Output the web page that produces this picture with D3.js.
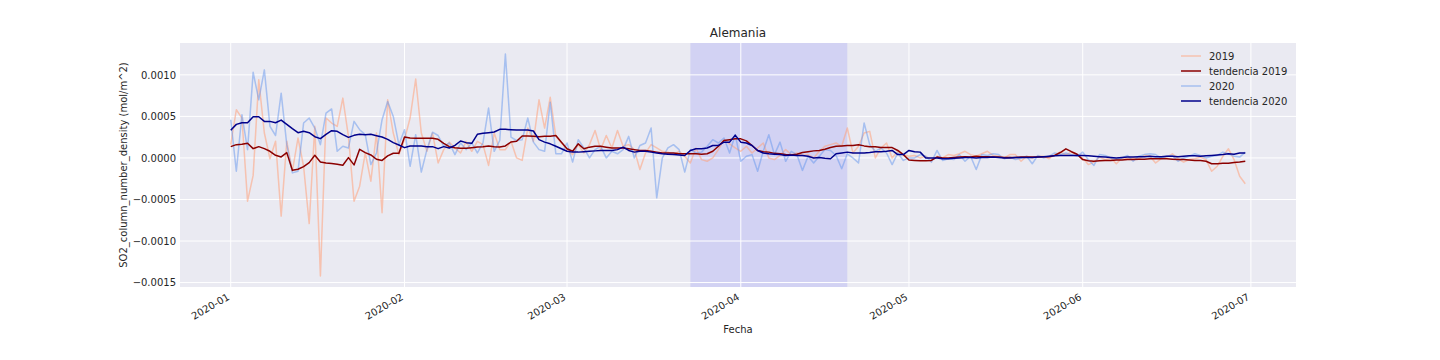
<!DOCTYPE html>
<html><head><meta charset="utf-8">
<script src="https://cdn.jsdelivr.net/npm/d3@7"></script>
<style>
html,body{margin:0;padding:0;background:#ffffff;}
svg{display:block;font-family:"DejaVu Sans",sans-serif;}
</style></head>
<body><svg id="chart" width="1440" height="360"></svg>
<script>
// ---- data (SO2 column density, units of 1e-4 mol/m^2), daily from 2020-01-01 ----
const startDate = "2020-01-01";
const so2_2019 = [1.6,5.8,4.8,-5.2,-2.1,9.4,3.0,-0.1,2.0,-7.0,2.0,-1.6,2.4,-1.0,-7.9,3.8,-14.2,4.8,4.2,3.8,
7.2,2.6,-5.2,-3.4,0.6,-2.8,3.0,-6.6,7.0,3.0,0.4,2.2,4.8,9.5,3.0,0.8,3.0,-0.6,1.0,1.9,
1.2,0.6,2.0,0.8,2.0,1.6,-0.9,3.0,1.0,1.0,2.0,0.0,-0.3,3.6,2.0,7.0,3.6,7.3,2.6,1.8,
1.0,0.4,1.6,0.6,1.6,3.3,1.0,2.7,1.2,3.3,1.4,1.6,1.0,-1.4,0.6,1.6,1.2,0.8,0.7,0.4,
0.8,0.2,-0.6,1.2,-0.2,-0.4,0.0,1.0,2.2,1.7,1.2,0.8,1.4,0.6,1.2,1.8,0.0,-0.2,0.3,1.0,
0.4,0.6,0.3,0.4,0.0,0.8,1.4,1.6,1.8,1.4,3.6,0.6,1.4,3.0,3.2,0.0,1.2,1.8,0.0,0.8,
0.4,0.2,0.3,0.0,0.2,-0.2,0.2,0.0,0.4,0.3,0.5,0.8,0.4,0.2,0.5,0.8,0.3,0.2,0.0,0.4,
0.4,-0.4,0.2,0.0,0.2,0.2,-0.1,0.4,0.7,0.4,0.7,0.3,0.0,-0.8,-0.5,0.1,-0.2,0.0,-0.7,0.0,
-0.1,0.0,-0.1,0.3,0.2,-0.6,-0.1,0.1,0.5,-0.1,-0.5,-0.2,-0.1,0.1,-0.2,-1.6,-1.0,0.2,1.1,-0.2,
-2.2,-3.1];
const trend_2019 = [1.36,1.6,1.64,1.76,1.12,1.36,1.12,0.8,0.32,0.12,0.64,-1.48,-1.36,-1.04,-0.56,0.32,-0.48,-0.6,-0.68,-0.76,
-0.88,0.04,-0.84,1.04,0.64,0.36,-0.16,-0.3,0.24,0.56,0.56,2.52,2.4,2.36,2.36,2.36,2.36,2.24,1.76,1.36,
1.24,1.16,1.16,1.24,1.32,1.36,1.44,1.36,1.32,1.44,1.92,2.0,2.64,2.64,2.6,2.56,2.6,2.6,2.7,1.9,
1.1,0.8,1.7,1.1,1.3,1.4,1.4,1.3,1.2,1.2,1.2,1.1,1.0,0.9,0.9,0.8,0.7,0.6,0.6,0.6,
0.5,0.5,0.5,0.5,0.45,0.5,0.8,1.4,2.1,2.2,2.3,2.3,2.05,1.5,0.9,0.75,0.7,0.55,0.5,0.4,
0.35,0.45,0.65,0.75,0.85,0.9,1.05,1.25,1.4,1.45,1.5,1.5,1.6,1.45,1.35,1.35,1.25,1.25,1.25,0.9,
0.4,-0.25,-0.3,-0.35,-0.35,-0.3,0.1,0.0,0.0,0.05,0.1,0.15,0.1,0.2,0.15,0.15,0.1,0.1,0.05,0.05,
0.05,0.1,0.1,0.1,0.1,0.15,0.15,0.3,0.65,1.1,0.75,0.45,-0.2,-0.35,-0.4,-0.35,-0.3,-0.3,-0.25,-0.25,
-0.2,-0.2,-0.15,-0.15,-0.1,-0.1,-0.1,-0.1,-0.15,-0.2,-0.2,-0.25,-0.3,-0.3,-0.4,-0.7,-0.7,-0.65,-0.65,-0.55,
-0.5,-0.4];
const so2_2020 = [4.6,-1.6,5.2,1.0,10.3,7.0,10.6,3.8,2.7,7.8,1.6,-1.8,-1.6,4.2,4.8,3.6,1.6,5.4,5.9,0.8,
1.4,1.2,4.4,3.4,2.8,-0.8,0.6,4.6,6.8,5.0,1.6,3.4,-1.0,2.8,-1.7,1.0,3.1,2.7,1.4,1.8,
0.4,1.8,1.0,1.8,0.6,1.8,6.0,0.8,2.1,12.5,2.5,2.1,2.2,4.8,1.9,1.0,0.8,6.7,0.5,0.5,
1.8,-0.5,2.2,1.2,0.0,1.0,1.4,0.0,0.8,0.5,1.0,2.6,0.0,1.5,1.8,3.6,-4.8,0.0,1.2,1.6,
1.0,-1.7,1.0,0.6,0.7,1.4,2.2,1.8,2.4,0.6,2.8,-0.4,0.2,0.4,-1.6,0.8,2.8,0.4,1.9,-0.4,
0.8,0.4,-1.5,0.2,-0.6,0.2,1.0,0.9,0.3,-1.3,0.5,0.0,-0.6,4.2,1.6,0.8,1.2,0.6,-0.8,0.6,
-0.3,0.0,0.0,0.4,0.2,-0.5,0.9,-0.3,-0.1,-0.2,0.4,-0.4,0.2,-1.4,0.4,0.3,0.5,0.4,-0.1,0.1,
-0.2,0.0,0.2,-0.7,0.3,0.0,0.2,0.6,0.4,0.6,0.4,0.2,0.7,-0.2,-0.9,0.4,0.3,0.0,-0.2,0.0,
0.3,-0.4,0.2,0.4,0.5,0.4,0.0,0.2,0.3,-0.4,0.0,0.2,0.5,0.3,0.0,0.2,0.3,0.7,0.5,0.2,
0.1,0.7];
const trend_2020 = [3.32,4.04,4.24,4.24,4.96,4.96,4.4,4.4,4.24,4.56,4.04,3.52,3.04,3.2,3.04,2.56,2.32,2.84,3.28,3.2,
2.8,2.48,2.72,2.84,2.8,2.84,2.68,2.52,2.24,1.84,1.56,1.24,1.44,1.44,1.44,1.36,1.36,1.12,1.36,1.2,
1.52,2.04,1.84,1.76,2.84,2.96,3.04,3.12,3.44,3.44,3.4,3.36,3.36,3.36,3.24,2.2,1.9,1.7,1.4,1.1,
0.8,0.7,0.7,0.75,0.8,0.85,0.9,0.9,0.9,1.0,1.3,0.9,0.7,0.8,0.8,0.7,0.6,0.5,0.45,0.4,
0.36,0.3,0.9,1.1,1.1,1.2,1.5,1.5,1.9,1.9,2.75,1.9,1.8,1.5,0.9,0.6,0.5,0.45,0.4,0.3,
0.35,0.3,0.3,0.2,0.0,0.05,-0.05,-0.1,0.5,0.6,0.7,0.6,0.6,0.6,0.65,0.75,0.75,0.8,0.9,0.4,
0.4,0.9,0.75,0.7,0.0,0.0,0.0,-0.1,-0.1,-0.05,0.0,0.05,0.05,0.0,0.05,0.05,0.1,0.05,0.0,0.0,
0.05,0.05,0.05,0.05,0.1,0.15,0.2,0.25,0.3,0.3,0.3,0.3,0.3,0.25,0.2,0.15,0.1,0.05,0.0,0.05,
0.1,0.1,0.15,0.15,0.2,0.15,0.15,0.2,0.2,0.15,0.2,0.25,0.25,0.2,0.25,0.3,0.35,0.4,0.5,0.45,
0.6,0.6];
const seriesNames = ["2019","tendencia 2019","2020","tendencia 2020"];
const yTickValues = [-15,-10,-5,0,5,10];
const yTickLabels = ["\u22120.0015","\u22120.0010","\u22120.0005","0.0000","0.0005","0.0010"];
const xTickDates = ["2020-01-01","2020-02-01","2020-03-01","2020-04-01","2020-05-01","2020-06-01","2020-07-01"];
const xTickLabels = ["2020-01","2020-02","2020-03","2020-04","2020-05","2020-06","2020-07"];
const lockdownSpan = ["2020-03-23","2020-04-20"];
const titleText = "Alemania";
const xLabel = "Fecha";
const yLabel = "SO2_column_number_density (mol/m^2)";

// ---- layout ----
const svg = d3.select("#chart");
const L = 180, R = 1296, T = 43, B = 287;
const parse = d3.utcParse("%Y-%m-%d");
const t0 = parse(startDate);
const dates = so2_2019.map((_, i) => d3.utcDay.offset(t0, i));
const xMin = dates[0], xMax = dates[dates.length - 1];
const span = xMax - xMin;
const x = d3.scaleUtc().domain([new Date(+xMin - 0.05 * span), new Date(+xMax + 0.05 * span)]).range([L, R]);
const all = so2_2019.concat(so2_2020, trend_2019, trend_2020);
const yLo = d3.min(all), yHi = d3.max(all), yr = yHi - yLo;
const y = d3.scaleLinear().domain([yLo - 0.05 * yr, yHi + 0.05 * yr]).range([B, T]);

const textColor = "#262626";

// background
svg.append("rect").attr("x", L).attr("y", T).attr("width", R - L).attr("height", B - T).attr("fill", "#eaeaf2");

// shaded span
svg.append("rect")
  .attr("x", x(parse(lockdownSpan[0]))).attr("y", T)
  .attr("width", x(parse(lockdownSpan[1])) - x(parse(lockdownSpan[0])))
  .attr("height", B - T).attr("fill", "blue").attr("fill-opacity", 0.1);

// grid
const xt = xTickDates.map(parse);
svg.append("g").selectAll("line").data(xt).join("line")
  .attr("x1", d => x(d)).attr("x2", d => x(d)).attr("y1", T).attr("y2", B)
  .attr("stroke", "#fff").attr("stroke-width", 1);
svg.append("g").selectAll("line").data(yTickValues).join("line")
  .attr("x1", L).attr("x2", R).attr("y1", d => y(d)).attr("y2", d => y(d))
  .attr("stroke", "#fff").attr("stroke-width", 1);

// axes via d3
const yAxis = d3.axisLeft(y).tickValues(yTickValues).tickSize(0).tickPadding(4)
  .tickFormat((d, i) => yTickLabels[i]);
const gy = svg.append("g").attr("transform", `translate(${L},0)`).call(yAxis);
gy.select(".domain").remove();
gy.selectAll("text").attr("font-size", 10).attr("fill", textColor).attr("font-family", "DejaVu Sans");

const xAxis = d3.axisBottom(x).tickValues(xt).tickSize(0).tickFormat((d, i) => xTickLabels[i]);
const gx = svg.append("g").attr("transform", `translate(0,${B})`).call(xAxis);
gx.select(".domain").remove();
gx.selectAll("text")
  .attr("font-size", 10).attr("fill", textColor).attr("font-family", "DejaVu Sans")
  .attr("text-anchor", "end").attr("dy", null).attr("y", 0)
  .attr("transform", "translate(-1,12) rotate(-30)");

// lines
const line = d3.line().x((d, i) => x(dates[i])).y(d => y(d));
const styles = [
  {data: so2_2019, color: "#ffa07a", op: 0.55, w: 1.5},
  {data: trend_2019, color: "#8b0000", op: 1, w: 1.5},
  {data: so2_2020, color: "#6495ed", op: 0.5, w: 1.5},
  {data: trend_2020, color: "#00008b", op: 1, w: 1.5}
];
const drawOrder = [0, 2, 1, 3];
drawOrder.forEach(k => {
  const s = styles[k];
  svg.append("path").datum(s.data).attr("d", line)
    .attr("fill", "none").attr("stroke", s.color).attr("stroke-opacity", s.op)
    .attr("stroke-width", s.w).attr("stroke-linejoin", "round");
});

// legend
const lg = svg.append("g");
seriesNames.forEach((name, i) => {
  const yy = 56 + i * 15;
  const s = styles[i];
  lg.append("line").attr("x1", 1181).attr("x2", 1201).attr("y1", yy).attr("y2", yy)
    .attr("stroke", s.color).attr("stroke-opacity", s.op).attr("stroke-width", 1.5);
  lg.append("text").attr("x", 1209).attr("y", yy + 3.6).text(name)
    .attr("font-size", 10).attr("fill", textColor);
});

// titles
svg.append("text").attr("x", (L + R) / 2).attr("y", 37).attr("text-anchor", "middle")
  .attr("font-size", 12).attr("fill", textColor).text(titleText);
svg.append("text").attr("x", (L + R) / 2).attr("y", 333).attr("text-anchor", "middle")
  .attr("font-size", 10).attr("fill", textColor).text(xLabel);
svg.append("text").attr("transform", `translate(127,${(T + B) / 2}) rotate(-90)`)
  .attr("text-anchor", "middle").attr("font-size", 10).attr("fill", textColor).text(yLabel);
</script></body></html>
